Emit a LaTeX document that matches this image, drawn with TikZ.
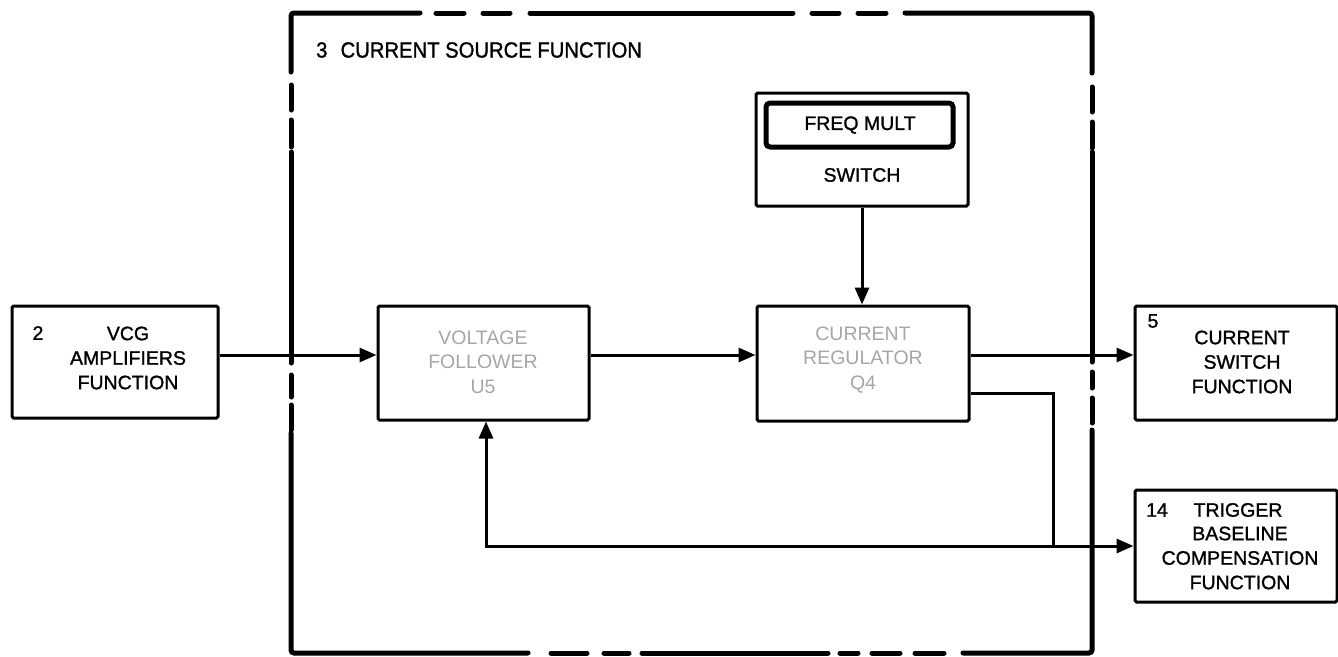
\documentclass[tikz,border=0pt]{standalone}
\usepackage{fontspec}
\setmainfont{Liberation Sans}
\newfontfamily\boxfont[FakeBold=1.2]{Liberation Sans}
\newfontfamily\titlefont[FakeStretch=0.92,FakeBold=1.2]{Liberation Sans}
\usetikzlibrary{arrows.meta}
\begin{document}
\begin{tikzpicture}[x=1pt,y=-1pt,
  blk/.style={draw, line width=3pt, inner sep=0pt, rounded corners=1.5pt},
  conn/.style={line width=3pt},
  arr/.style={conn, -{Triangle[length=17pt,width=14pt]}},
  frame/.style={line width=5pt, line cap=round, rounded corners=3pt},
  lbl/.style={font=\boxfont\fontsize{19.5}{24.5}\selectfont, align=center, inner sep=0pt},
  dim/.style={font=\fontsize{19.5}{24.5}\selectfont, align=center, inner sep=0pt, text=black!35}]
\useasboundingbox (0,0) rectangle (1338,656);
% outer dashed frame
\draw[frame] (291,72) -- (291,13) -- (420,13);
\draw[frame] (436,13) -- (464,13);
\draw[frame] (483,13) -- (510,13);
\draw[frame] (530,13) -- (793,13);
\draw[frame] (812,13) -- (839,13);
\draw[frame] (858,13) -- (886,13);
\draw[frame] (905,13) -- (1092,13) -- (1092,73);
\draw[frame] (1092,87) -- (1092,112);
\draw[frame] (1092,122) -- (1092,148);
\draw[frame] (1092,152) -- (1092,362);
\draw[frame] (1092,372) -- (1092,388);
\draw[frame] (1092,398) -- (1092,423);
\draw[frame] (1092,430) -- (1092,653) -- (963,653);
\draw[frame] (944,653) -- (915,653);
\draw[frame] (900,653) -- (872,653);
\draw[frame] (858,653) -- (840,653);
\draw[frame] (828,653) -- (642,653);
\draw[frame] (629,653) -- (604,653);
\draw[frame] (587,653) -- (551,653);
\draw[frame] (528,653) -- (291,653) -- (291,433);
\draw[frame] (291,430) -- (291,405);
\draw[frame] (291,397) -- (291,375);
\draw[frame] (291,363) -- (291,152);
\draw[frame] (291,147) -- (291,120);
\draw[frame] (291,110) -- (291,85);
\node[anchor=west, inner sep=0pt, font=\titlefont\fontsize{22}{27}\selectfont] (title) at (316,50) {3\hspace{0.6em}CURRENT SOURCE FUNCTION};
% blocks
\node[blk, minimum width=206pt, minimum height=112pt] (vcg) at (115,362) {};
\node[blk, minimum width=211pt, minimum height=114pt] (vf) at (483.5,363) {};
\node[blk, minimum width=212pt, minimum height=115pt] (cr) at (863,363.5) {};
\node[blk, minimum width=212pt, minimum height=113pt] (sw) at (862,149.5) {};
\node[draw, line width=5pt, rounded corners=4pt, inner sep=0pt, minimum width=187pt, minimum height=44pt] (fm) at (859.5,125) {};
\node[blk, minimum width=202pt, minimum height=114pt] (cs) at (1236,363) {};
\node[blk, minimum width=202pt, minimum height=112pt] (tr) at (1236,546) {};
% labels
\node[lbl] (l2) at (38,333) {2};
\node[lbl] (lvcg) at (128,358) {VCG\\AMPLIFIERS\\FUNCTION};
\node[dim] (lvf) at (483,362) {VOLTAGE\\FOLLOWER\\U5};
\node[dim] (lcr) at (863,360) {CURRENT\\REGULATOR\\Q4};
\node[lbl] (lfm) at (860,125) {FREQ MULT};
\node[lbl] (lsw) at (862,175) {SWITCH};
\node[lbl] (l5) at (1153,321) {5};
\node[lbl] (lcs) at (1242,362) {CURRENT\\SWITCH\\FUNCTION};
\node[lbl] (l14) at (1157,510) {14};
\node[lbl] (ltrig) at (1238,510) {TRIGGER};
\node[lbl] (ltr) at (1240,558) {BASELINE\\COMPENSATION\\FUNCTION};
% connectors
\coordinate (m) at (0,355);
\coordinate (lo) at (0,393);
\coordinate (j) at (1053,546);
\coordinate (fb) at (486,546);
\draw[arr] (vcg.east |- m) -- (vf.west |- m);
\draw[arr] (vf.east |- m) -- (cr.west |- m);
\draw[arr] (cr.east |- m) -- (cs.west |- m);
\draw[arr] (sw.south) -- (sw.south |- cr.north);
\draw[conn] (cr.east |- lo) -| (j);
\draw[arr] (j) -- (tr.west |- j);
\draw[arr] (j) -- (fb) -- (fb |- vf.south);
\end{tikzpicture}
\end{document}
